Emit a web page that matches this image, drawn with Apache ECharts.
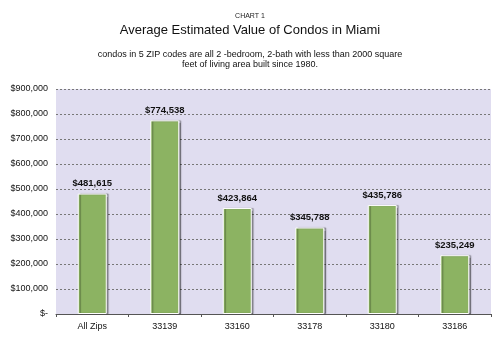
<!DOCTYPE html>
<html><head><meta charset="utf-8">
<script src="https://cdn.jsdelivr.net/npm/echarts@6/dist/echarts.min.js"></script>
<style>html,body{margin:0;padding:0;background:#fff}#c{width:500px;height:341px}</style>
</head><body><div id="c"></div>
<script>
const categories = ['All Zips', '33139', '33160', '33178', '33180', '33186'];
const values = [481615, 774538, 423864, 345788, 435786, 235249];
const yTicks = [0, 100000, 200000, 300000, 400000, 500000, 600000, 700000, 800000, 900000];
const font = 'Liberation Sans';
function money(v){ return v === 0 ? '$-' : '$' + v.toLocaleString('en-US'); }
const chart = echarts.init(document.getElementById('c'), null, {renderer:'canvas'});
chart.setOption({
  animation:false,
  backgroundColor:'#fff',
  title:[
    {text:'CHART 1', left:'center', top:8, textStyle:{fontFamily:font, fontSize:7, fontWeight:'normal', color:'#222'}},
    {text:'Average Estimated Value of Condos in Miami', left:'center', top:19, textStyle:{fontFamily:font, fontSize:13, fontWeight:'normal', color:'#111'}},
    {text:'condos in 5 ZIP codes are all 2 -bedroom, 2-bath with less than 2000 square', left:'center', top:45, textStyle:{fontFamily:font, fontSize:9, fontWeight:'normal', color:'#111'}},
    {text:'feet of living area built since 1980.', left:'center', top:55, textStyle:{fontFamily:font, fontSize:9, fontWeight:'normal', color:'#111'}}
  ],
  grid:{left:56, right:9, top:89, bottom:27, backgroundColor:'#e0ddf0', show:true, borderWidth:0},
  xAxis:{type:'category', data:categories,
    axisLine:{lineStyle:{color:'#555', width:1}},
    axisTick:{show:true, length:3, lineStyle:{color:'#555'}},
    axisLabel:{fontFamily:font, fontSize:9, color:'#111', margin:8}},
  yAxis:{type:'value', min:0, max:900000, interval:100000,
    axisLine:{show:false}, axisTick:{show:false},
    splitLine:{lineStyle:{type:[2,2], color:'#777', width:1}},
    axisLabel:{fontFamily:font, fontSize:9, color:'#111', margin:8, formatter:money}},
  series:[{type:'bar', data:values, barWidth:'40%',
    itemStyle:{color:'#8cb362', borderColor:'#fff', borderWidth:1, shadowColor:'rgba(0,0,0,0.35)', shadowOffsetX:2, shadowOffsetY:0, shadowBlur:1},
    label:{show:true, position:'top', distance:5, fontFamily:font, fontSize:9.5, fontWeight:'bold', color:'#111', formatter:p=>money(p.value)}}]
});
</script></body></html>
